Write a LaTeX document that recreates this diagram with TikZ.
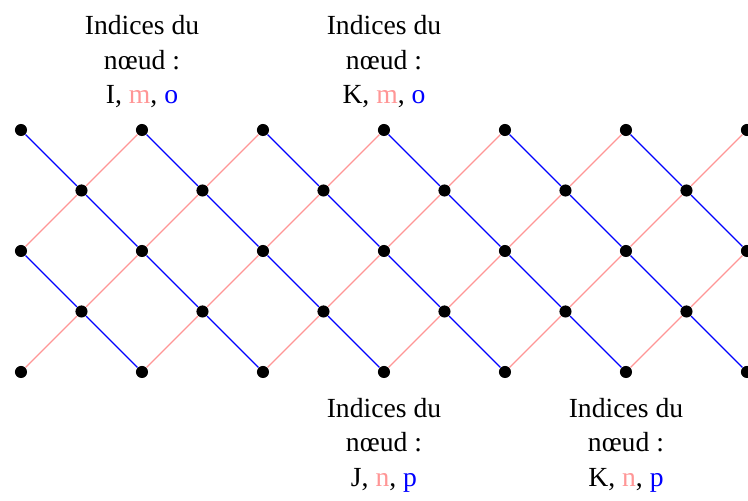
\documentclass[tikz,border=0pt]{standalone}
\usepackage{fontspec}
\setmainfont{Liberation Serif}
\usetikzlibrary{calc, positioning}
\definecolor{rose}{RGB}{255,150,150}
\tikzset{
  dot/.style={circle, fill=black, inner sep=0pt, minimum size=0.2cm},
  descent/.style={draw=blue, line width=0.6pt},
  ascent/.style={draw=rose, line width=0.6pt},
  indices/.style={align=center, inner sep=0pt, font=\fontsize{13}{16.2}\selectfont}
}

\begin{document}
\begin{tikzpicture}
\clip (-0.347,-2.116) rectangle (12.017,6.149);

\foreach \i in {0,2,...,12} {
  \foreach \j in {0,2,4} {
    \node[dot] (d-\i-\j) at (\i,\j) {};
  }
}
\foreach \i in {1,3,...,11} {
  \foreach \j in {1,3} {
    \node[dot] (d-\i-\j) at (\i,\j) {};
  }
}

\foreach \i in {0,...,11} {
  \pgfmathtruncatemacro{\nxt}{\i+1}
  \pgfmathtruncatemacro{\rr}{mod(\i,2)}
  \foreach \m in {0,2} {
    \pgfmathtruncatemacro{\pa}{\m+\rr}
    \pgfmathtruncatemacro{\pb}{\m+\rr+1}
    \pgfmathtruncatemacro{\qa}{\m+2-\rr}
    \pgfmathtruncatemacro{\qb}{\m+1-\rr}
    \draw[ascent] (d-\i-\pa) -- (d-\nxt-\pb);
    \draw[descent] (d-\i-\qa) -- (d-\nxt-\qb);
  }
}

\node[indices, above=0.25cm of d-2-4] (lab-I) {Indices du\\nœud :\\I, \textcolor{rose}{m}, \textcolor{blue}{o}};
\node[indices, above=0.25cm of d-6-4] (lab-Kmo) {Indices du\\nœud :\\K, \textcolor{rose}{m}, \textcolor{blue}{o}};
\node[indices, below=0.32cm of d-6-0] (lab-J) {Indices du\\nœud :\\J, \textcolor{rose}{n}, \textcolor{blue}{p}};
\node[indices, below=0.32cm of d-10-0] (lab-Knp) {Indices du\\nœud :\\K, \textcolor{rose}{n}, \textcolor{blue}{p}};
\end{tikzpicture}
\end{document}
